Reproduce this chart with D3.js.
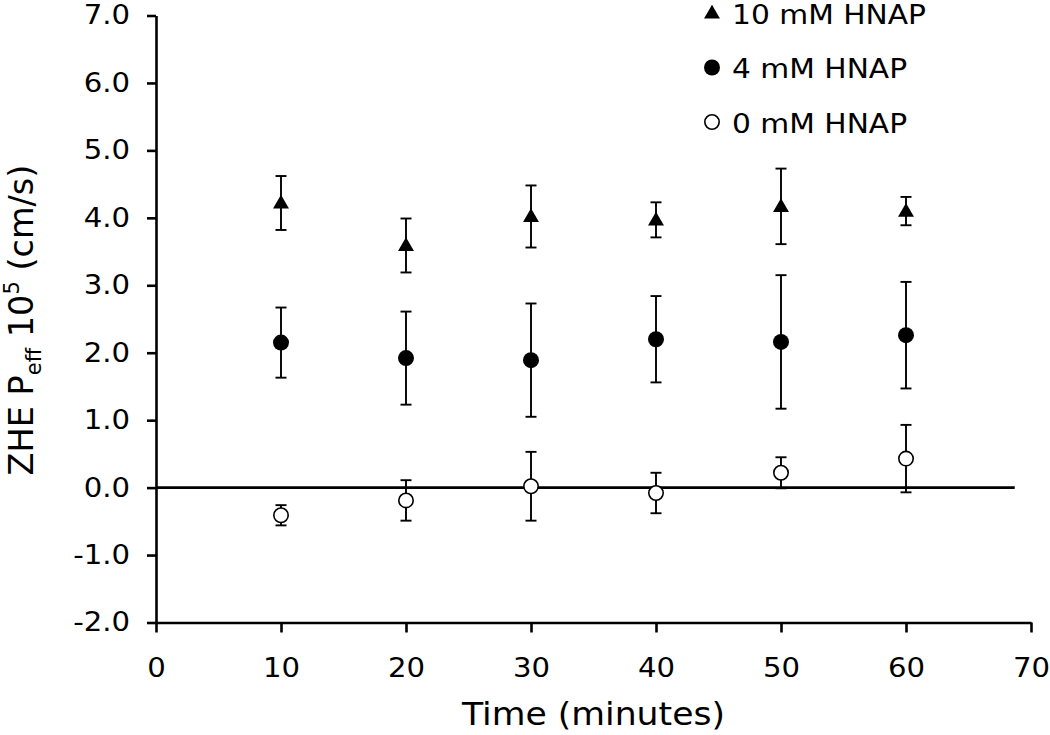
<!DOCTYPE html>
<html>
<head>
<meta charset="utf-8">
<script src="https://cdn.jsdelivr.net/npm/d3@7"></script>
<style>
  html, body { margin: 0; padding: 0; background: #fff; }
  svg text { font-family: "DejaVu Sans", Verdana, sans-serif; fill: #000; }
</style>
</head>
<body>
<svg id="chart" width="1050" height="735"></svg>
<script>
// ---- data ----
const times = [10, 20, 30, 40, 50, 60];
const seriesNames = ["10 mM HNAP", "4 mM HNAP", "0 mM HNAP"];
const hnap10 = [4.22, 3.59, 4.02, 3.97, 4.17, 4.10];
const hnap10Err = [0.40, 0.40, 0.46, 0.26, 0.56, 0.21];
const hnap4 = [2.15, 1.92, 1.89, 2.20, 2.16, 2.26];
const hnap4Err = [0.52, 0.69, 0.84, 0.64, 0.99, 0.79];
const hnap0 = [-0.41, -0.19, 0.02, -0.08, 0.22, 0.43];
const hnap0Err = [0.15, 0.30, 0.51, 0.30, 0.23, 0.50];
const xTicks = [0, 10, 20, 30, 40, 50, 60, 70];
const yTicks = [-2, -1, 0, 1, 2, 3, 4, 5, 6, 7];
const zeroLineExtent = [0, 68.7];

const STRETCH = 1.1; // text in the reference is slightly wide

const svg = d3.select("#chart");
const x = d3.scaleLinear().domain([0, 70]).range([156, 1031]);
const y = d3.scaleLinear().domain([-2, 7]).range([622.5, 15.5]);

function stretch(sel) {
  sel.each(function () {
    const t = d3.select(this);
    const tx = +t.attr("x") || 0, ty = +t.attr("y") || 0;
    t.attr("x", 0).attr("y", 0)
      .attr("transform", `translate(${tx},${ty}) scale(${STRETCH},1)`);
  });
}

// axes
const xAxis = svg.append("g").attr("transform", `translate(0,${y(-2)})`)
  .call(d3.axisBottom(x).tickValues(xTicks).tickSize(10).tickSizeOuter(0).tickPadding(25).tickFormat(d3.format("d")));
const yAxis = svg.append("g").attr("transform", `translate(${x(0)},0)`)
  .call(d3.axisLeft(y).tickValues(yTicks).tickSize(9).tickSizeOuter(0).tickPadding(17)
    .tickFormat(d => d3.format(".1f")(d).replace("\u2212", "-")));
[xAxis, yAxis].forEach(g => {
  g.selectAll("path.domain").attr("stroke", "#000").attr("stroke-width", 2.6);
  g.selectAll(".tick line").attr("stroke", "#000").attr("stroke-width", 2.6);
  g.selectAll(".tick text").attr("font-size", 26.5).attr("font-family", "DejaVu Sans, Verdana, sans-serif").attr("fill", "#000");
  stretch(g.selectAll(".tick text"));
});
xAxis.selectAll(".tick text").attr("dy", "0.72em");

// zero line
svg.append("line")
  .attr("x1", x(zeroLineExtent[0])).attr("x2", x(zeroLineExtent[1]))
  .attr("y1", y(0)).attr("y2", y(0))
  .attr("stroke", "#000").attr("stroke-width", 2.6);

const series = [
  { name: seriesNames[0], vals: hnap10, errs: hnap10Err, shape: "tri" },
  { name: seriesNames[1], vals: hnap4, errs: hnap4Err, shape: "fill" },
  { name: seriesNames[2], vals: hnap0, errs: hnap0Err, shape: "open" }
];

const triPath = d3.symbol().type(d3.symbolTriangle).size(110);

function drawMarker(g, shape, cx, cy) {
  if (shape === "tri") {
    g.append("path").attr("d", triPath()).attr("transform", `translate(${cx},${cy + 1})`).attr("fill", "#000");
  } else if (shape === "fill") {
    g.append("circle").attr("cx", cx).attr("cy", cy).attr("r", 8).attr("fill", "#000");
  } else {
    g.append("circle").attr("cx", cx).attr("cy", cy).attr("r", 7.2).attr("fill", "#fff").attr("stroke", "#000").attr("stroke-width", 1.6);
  }
}

series.forEach(s => {
  const g = svg.append("g");
  times.forEach((t, i) => {
    const cx = x(t), v = s.vals[i], e = s.errs[i];
    const y1 = y(v + e), y2 = y(v - e);
    g.append("line").attr("x1", cx).attr("x2", cx).attr("y1", y1).attr("y2", y2).attr("stroke", "#000").attr("stroke-width", 1.9);
    [y1, y2].forEach(yy => g.append("line").attr("x1", cx - 5.5).attr("x2", cx + 5.5).attr("y1", yy).attr("y2", yy).attr("stroke", "#000").attr("stroke-width", 1.9));
  });
  times.forEach((t, i) => drawMarker(g, s.shape, x(t), y(s.vals[i])));
});

// legend
const legend = svg.append("g");
const legendRows = [13, 67.5, 122];
series.forEach((s, i) => {
  drawMarker(legend, s.shape, 712, legendRows[i]);
  const t = legend.append("text").attr("x", 732).attr("y", legendRows[i] + 10.5)
    .attr("font-size", 27).text(s.name);
  stretch(t);
});

// axis titles
const xt = svg.append("text").attr("x", (x(0) + x(70)) / 2).attr("y", 725)
  .attr("text-anchor", "middle").attr("font-size", 31.5).text("Time (minutes)");
stretch(xt);

const yt = svg.append("text").attr("transform", "translate(33,320) rotate(-90)")
  .attr("text-anchor", "middle").attr("font-size", 33.5);
yt.append("tspan").text("ZHE P");
yt.append("tspan").attr("font-size", 21).attr("dy", 8).text("eff");
yt.append("tspan").attr("dy", -8).text(" 10");
yt.append("tspan").attr("font-size", 21).attr("dy", -14).text("5");
yt.append("tspan").attr("dy", 14).text(" (cm/s)");
</script>
</body>
</html>
